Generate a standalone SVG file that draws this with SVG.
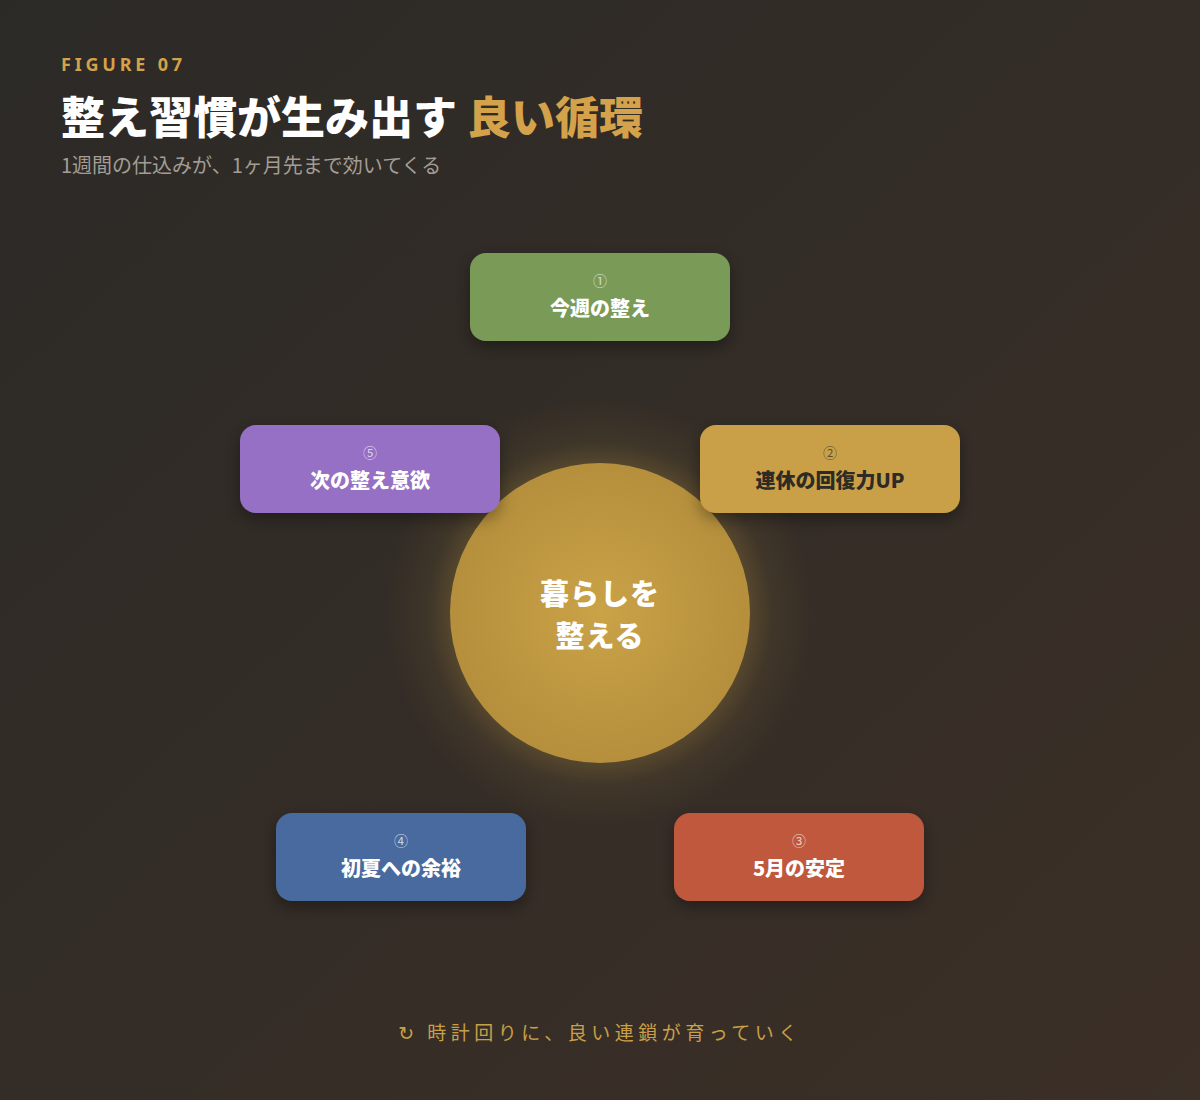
<svg xmlns="http://www.w3.org/2000/svg" width="1200" height="1100" viewBox="0 0 1200 1100">
<defs>
<linearGradient id="bg" x1="0" y1="0" x2="1" y2="1">
<stop offset="0" stop-color="#2c2a27"/>
<stop offset="1" stop-color="#3b2f26"/>
</linearGradient>
<radialGradient id="core" cx="0.5" cy="0.5" r="0.5">
<stop offset="0" stop-color="#caa247"/>
<stop offset="1" stop-color="#b58f3c"/>
</radialGradient>
<radialGradient id="glow" cx="0.5" cy="0.5" r="0.5">
<stop offset="0.6" stop-color="#c9a046" stop-opacity="0.35"/>
<stop offset="0.8" stop-color="#c9a046" stop-opacity="0.08"/>
<stop offset="1" stop-color="#c9a046" stop-opacity="0"/>
</radialGradient>
<filter id="sh" x="-20%" y="-30%" width="140%" height="170%">
<feDropShadow dx="0" dy="6" stdDeviation="8" flood-color="#000" flood-opacity="0.35"/>
</filter>
</defs>
<style>
.num{font-family:"Noto Sans CJK JP","Noto Sans",sans-serif;font-size:14px;fill:#ffffff;fill-opacity:0.7;text-anchor:middle}
.lbl{font-family:"Noto Sans CJK JP","Noto Sans",sans-serif;font-size:20px;font-weight:900;fill:#ffffff;text-anchor:middle}
.serif{font-family:"Noto Sans CJK JP",serif;font-weight:900}
</style>
<rect width="1200" height="1100" fill="url(#bg)"/>
<text x="61" y="71" font-family="'Noto Sans','Noto Sans CJK JP',sans-serif" font-size="18" font-weight="700" letter-spacing="3.8" fill="#d4a24a">FIGURE 07</text>
<text x="61" y="134" class="serif" font-size="44" fill="#ffffff">整え習慣が生み出す <tspan fill="#d4a24a">良い循環</tspan></text>
<text x="61" y="173" font-family="'Noto Sans CJK JP',sans-serif" font-size="20" fill="#a39d95">1週間の仕込みが、1ヶ月先まで効いてくる</text>

<g id="connectors"></g>

<g id="center">
<circle cx="600" cy="613" r="215" fill="url(#glow)"/>
<circle cx="600" cy="613" r="150" fill="url(#core)"/>
<text x="600" y="605" class="serif" font-size="29" fill="#ffffff" text-anchor="middle" letter-spacing="1">暮らしを</text>
<text x="600" y="647" class="serif" font-size="29" fill="#ffffff" text-anchor="middle" letter-spacing="1">整える</text>
</g>

<g id="node1">
<rect x="470" y="253" width="260" height="88" rx="16" fill="#7a9a58" filter="url(#sh)"/>
<text x="600" y="286" class="num">①</text>
<text x="600" y="316" class="lbl">今週の整え</text>
</g>
<g id="node2">
<rect x="700" y="425" width="260" height="88" rx="16" fill="#c9a046" filter="url(#sh)"/>
<text x="830" y="458" class="num" style="fill:#2e2a25">②</text>
<text x="830" y="488" class="lbl" style="fill:#2e2a25">連休の回復力UP</text>
</g>
<g id="node3">
<rect x="674" y="813" width="250" height="88" rx="16" fill="#c0583d" filter="url(#sh)"/>
<text x="799" y="846" class="num">③</text>
<text x="799" y="876" class="lbl">5月の安定</text>
</g>
<g id="node4">
<rect x="276" y="813" width="250" height="88" rx="16" fill="#486a9e" filter="url(#sh)"/>
<text x="401" y="846" class="num">④</text>
<text x="401" y="876" class="lbl">初夏への余裕</text>
</g>
<g id="node5">
<rect x="240" y="425" width="260" height="88" rx="16" fill="#9570c4" filter="url(#sh)"/>
<text x="370" y="458" class="num">⑤</text>
<text x="370" y="488" class="lbl">次の整え意欲</text>
</g>

<text x="600" y="1040" font-family="'Noto Sans CJK JP','DejaVu Sans',sans-serif" font-size="19" letter-spacing="4.5" fill="#c9a046" text-anchor="middle">↻ 時計回りに、良い連鎖が育っていく</text>
</svg>
